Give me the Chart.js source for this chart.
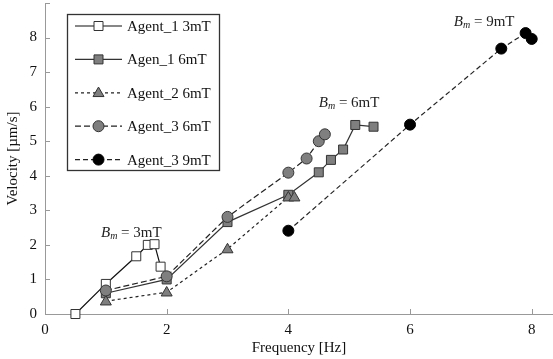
<!DOCTYPE html>
<html>
<head>
<meta charset="utf-8">
<script src="https://cdn.jsdelivr.net/npm/chart.js@4/dist/chart.umd.min.js"></script>
<style>
html, body { margin: 0; padding: 0; background: #fff; }
#wrap { width: 553px; height: 359px; }
</style>
</head>
<body>
<div id="wrap"><canvas id="velocityChart"></canvas></div>
<script>
// data: frequency [Hz] vs velocity [um/s]
var agent1_3mT_freq = [0.5, 1, 1.5, 1.69, 1.8, 1.9]
var agent1_3mT_vel = [0, 0.87, 1.67, 2.0, 2.02, 1.37]

var agent1_6mT_freq = [1, 2, 3, 4, 4.5, 4.7, 4.9, 5.1, 5.4]
var agent1_6mT_vel = [0.6, 1.0, 2.66, 3.45, 4.1, 4.46, 4.76, 5.47, 5.42]

var agent2_6mT_freq = [1, 2, 3, 4, 4.1]
var agent2_6mT_vel = [0.37, 0.63, 1.88, 3.38, 3.38]

var agent3_6mT_freq = [1, 2, 3, 4, 4.3, 4.5, 4.6]
var agent3_6mT_vel = [0.68, 1.09, 2.81, 4.09, 4.5, 5.0, 5.2]

var agent3_9mT_freq = [4, 6, 7.5, 7.9, 8]
var agent3_9mT_vel = [2.41, 5.48, 7.68, 8.13, 7.96]

var seriesLabels = ['Agent_1 3mT', 'Agen_1 6mT', 'Agent_2 6mT', 'Agent_3 6mT', 'Agent_3 9mT']
var xTickValues = [0, 2, 4, 6, 8]
var yTickValues = [0, 1, 2, 3, 4, 5, 6, 7, 8]
var yTickMarkValues = [1, 2, 3, 4, 5, 6, 7, 8, 9]

var fieldNotes = [
    { x: 0.92, y: 2.37, value: '3mT' },
    { x: 4.5, y: 6.13, value: '6mT' },
    { x: 6.72, y: 8.48, value: '9mT' }
]

var serif = '"Liberation Serif", "Times New Roman", serif'

function toPoints(xs, ys) {
    return xs.map(function (x, i) { return { x: x, y: ys[i] } })
}

function drawMarker(ctx, style, x, y, r, fill, stroke) {
    ctx.save()
    ctx.setLineDash([])
    ctx.lineWidth = 1
    ctx.fillStyle = fill
    ctx.strokeStyle = stroke
    ctx.beginPath()
    if (style === 'rect') {
        ctx.rect(x - r, y - r, 2 * r, 2 * r)
    } else if (style === 'triangle') {
        ctx.moveTo(x, y - r * 1.15)
        ctx.lineTo(x + r * 1.1, y + r * 0.75)
        ctx.lineTo(x - r * 1.1, y + r * 0.75)
        ctx.closePath()
    } else {
        ctx.arc(x, y, r, 0, Math.PI * 2)
    }
    ctx.fill()
    ctx.stroke()
    ctx.restore()
}

var seriesStyle = [
    { color: '#111', dash: [], marker: 'rect', fill: '#fff', stroke: '#333', r: 4.5 },
    { color: '#333', dash: [], marker: 'rect', fill: '#7f7f7f', stroke: '#333', r: 4.5 },
    { color: '#222', dash: [3, 3], marker: 'triangle', fill: '#7f7f7f', stroke: '#333', r: 5 },
    { color: '#222', dash: [6, 3], marker: 'circle', fill: '#7f7f7f', stroke: '#333', r: 5.5 },
    { color: '#222', dash: [5, 3], marker: 'circle', fill: '#000', stroke: '#000', r: 5.5 }
]

var seriesPoints = [
    toPoints(agent1_3mT_freq, agent1_3mT_vel),
    toPoints(agent1_6mT_freq, agent1_6mT_vel),
    toPoints(agent2_6mT_freq, agent2_6mT_vel),
    toPoints(agent3_6mT_freq, agent3_6mT_vel),
    toPoints(agent3_9mT_freq, agent3_9mT_vel)
]

var datasets = seriesLabels.map(function (label, i) {
    var s = seriesStyle[i]
    return {
        label: label,
        data: seriesPoints[i],
        showLine: true,
        borderColor: s.color,
        borderWidth: 1.2,
        borderDash: s.dash,
        pointStyle: false,
        clip: false
    }
})

// markers drawn on top of every line, in dataset order
var markerPlugin = {
    id: 'markers',
    afterDatasetsDraw: function (chart) {
        var ctx = chart.ctx
        chart.data.datasets.forEach(function (ds, i) {
            var s = seriesStyle[i]
            chart.getDatasetMeta(i).data.forEach(function (pt) {
                drawMarker(ctx, s.marker, pt.x, pt.y, s.r, s.fill, s.stroke)
            })
        })
    }
}

// inward tick marks like the original figure
var tickMarkPlugin = {
    id: 'tickMarks',
    afterDraw: function (chart) {
        var ctx = chart.ctx
        var xs = chart.scales.x
        var ys = chart.scales.y
        var area = chart.chartArea
        ctx.save()
        ctx.strokeStyle = '#999'
        ctx.lineWidth = 1
        ctx.beginPath()
        xTickValues.forEach(function (v) {
            if (v === 0) return
            var px = Math.round(xs.getPixelForValue(v)) + 0.5
            ctx.moveTo(px, area.bottom)
            ctx.lineTo(px, area.bottom - 5)
        })
        yTickMarkValues.forEach(function (v) {
            var py = Math.round(ys.getPixelForValue(v)) + 0.5
            ctx.moveTo(area.left, py)
            ctx.lineTo(area.left + 5, py)
        })
        ctx.stroke()
        ctx.restore()
    }
}

// "B_m = ..." labels
var notePlugin = {
    id: 'fieldNotes',
    afterDraw: function (chart) {
        var ctx = chart.ctx
        var xs = chart.scales.x
        var ys = chart.scales.y
        ctx.save()
        ctx.fillStyle = '#222'
        ctx.textBaseline = 'alphabetic'
        fieldNotes.forEach(function (n) {
            var px = xs.getPixelForValue(n.x)
            var py = ys.getPixelForValue(n.y) + 5
            ctx.font = 'italic 15px ' + serif
            ctx.fillText('B', px, py)
            px += ctx.measureText('B').width
            ctx.font = 'italic 10px ' + serif
            ctx.fillText('m', px, py + 2)
            px += ctx.measureText('m').width
            ctx.font = '15px ' + serif
            ctx.fillText(' = ' + n.value, px, py)
        })
        ctx.restore()
    }
}

// boxed legend with line + marker samples
var legendPlugin = {
    id: 'boxLegend',
    afterDraw: function (chart) {
        var ctx = chart.ctx
        ctx.save()
        ctx.fillStyle = '#fff'
        ctx.fillRect(67.5, 14.5, 152, 156)
        ctx.strokeStyle = '#333'
        ctx.lineWidth = 1.3
        ctx.strokeRect(67.5, 14.5, 152, 156)
        chart.data.datasets.forEach(function (ds, i) {
            var s = seriesStyle[i]
            var y = 26 + i * 33.4
            ctx.strokeStyle = s.color
            ctx.lineWidth = 1.2
            ctx.setLineDash(s.dash)
            ctx.beginPath()
            ctx.moveTo(75, y)
            ctx.lineTo(122, y)
            ctx.stroke()
            drawMarker(ctx, s.marker, 98.5, y, s.r, s.fill, s.stroke)
            ctx.setLineDash([])
            ctx.fillStyle = '#111'
            ctx.font = '15px ' + serif
            ctx.textBaseline = 'middle'
            ctx.fillText(ds.label, 127, y + 1)
        })
        ctx.restore()
    }
}

var velocityChartCanvas = document.getElementById('velocityChart').getContext('2d')

// eslint-disable-next-line no-unused-vars
var velocityChart = new Chart(velocityChartCanvas, {
    type: 'scatter',
    data: { datasets: datasets },
    options: {
        responsive: true,
        maintainAspectRatio: false,
        animation: false,
        layout: { autoPadding: false, padding: { top: 3, right: 0, left: 0, bottom: 0 } },
        plugins: {
            legend: { display: false },
            tooltip: { enabled: false }
        },
        scales: {
            x: {
                type: 'linear',
                min: 0,
                max: 8.35,
                afterBuildTicks: function (axis) {
                    axis.ticks = xTickValues.map(function (v) { return { value: v } })
                },
                afterFit: function (scale) {
                    scale.height = 45
                    scale.paddingLeft = 0
                    scale.paddingRight = 0
                },
                border: { display: true, color: '#999', width: 1 },
                grid: { drawOnChartArea: false, drawTicks: false },
                ticks: { color: '#111', padding: 7, maxRotation: 0, font: { family: serif, size: 15 } },
                title: {
                    display: true,
                    text: 'Frequency [Hz]',
                    color: '#111',
                    font: { family: serif, size: 15 },
                    padding: { top: 0, bottom: 2 }
                }
            },
            y: {
                type: 'linear',
                min: 0,
                max: 9,
                afterBuildTicks: function (axis) {
                    axis.ticks = yTickValues.map(function (v) { return { value: v } })
                },
                afterFit: function (scale) {
                    scale.width = 45
                    scale.paddingTop = 0
                    scale.paddingBottom = 0
                },
                border: { display: true, color: '#999', width: 1 },
                grid: { drawOnChartArea: false, drawTicks: false },
                ticks: { color: '#111', padding: 8, font: { family: serif, size: 15 } },
                title: {
                    display: true,
                    text: 'Velocity [\u00b5m/s]',
                    color: '#111',
                    font: { family: serif, size: 15 },
                    padding: { top: 4, bottom: 0 }
                }
            }
        }
    },
    plugins: [markerPlugin, tickMarkPlugin, notePlugin, legendPlugin]
})
</script>
</body>
</html>
